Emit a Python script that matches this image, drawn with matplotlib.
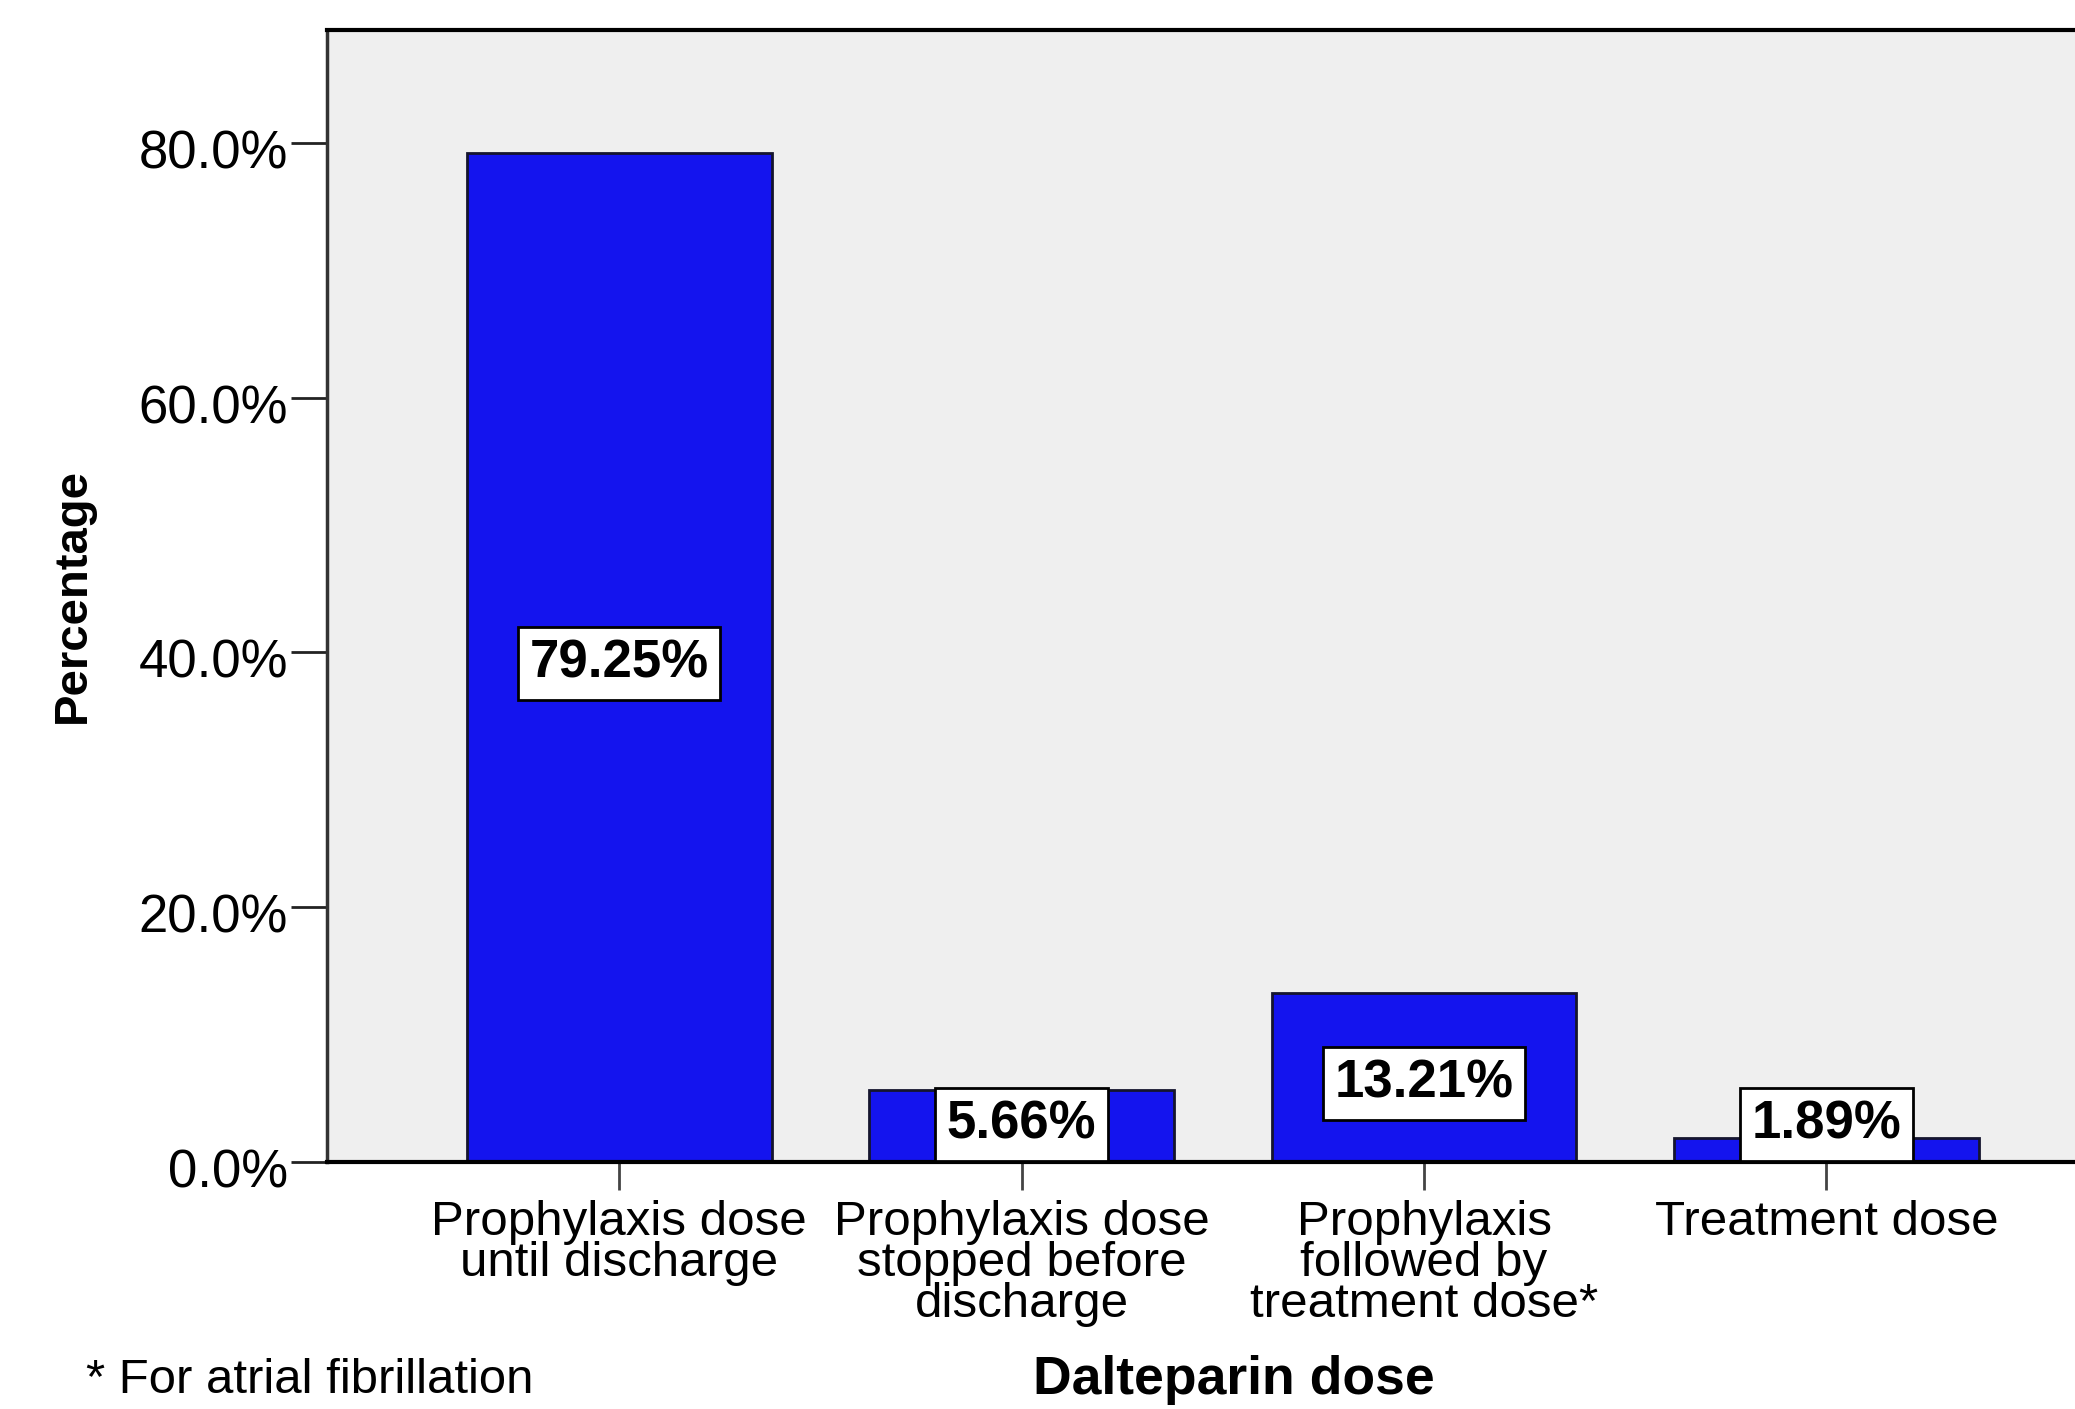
import matplotlib
matplotlib.use('Agg')
import matplotlib.pyplot as plt
from matplotlib.ticker import PercentFormatter
from matplotlib.transforms import ScaledTranslation

# Dalteparin dose groups and their share of patients (%)
categories = [
    'Prophylaxis dose\nuntil discharge',
    'Prophylaxis dose\nstopped before\ndischarge',
    'Prophylaxis\nfollowed by\ntreatment dose*',
    'Treatment dose',
]
percentages = [79.25, 5.66, 13.21, 1.89]
y_ticks = [0, 20, 40, 60, 80]

plt.rcParams['font.family'] = ['Liberation Sans', 'DejaVu Sans']

fig = plt.figure(figsize=(20.75, 14.09), dpi=100)
ax = fig.add_axes([0.1575, 0.1756, 0.8425, 0.8034])
ax.set_facecolor('#efefef')

x = list(range(len(categories)))
ax.bar(x, percentages, width=0.757, color='#1414ee',
       edgecolor='#15152e', linewidth=2, zorder=2)

# value boxes near the middle of each bar (kept clear of the baseline)
for xi, v in zip(x, percentages):
    ax.text(xi, max(v / 2 - 0.5, 2.9), f'{v:.2f}%', ha='center', va='center',
            fontsize=38, fontweight='bold', color='black', zorder=3,
            bbox=dict(boxstyle='square,pad=0.22', facecolor='white',
                      edgecolor='black', linewidth=2))

ax.set_xlim(-0.727, 3.618)
ax.set_ylim(0, 88.94)
ax.set_yticks(y_ticks)
ax.yaxis.set_major_formatter(PercentFormatter(xmax=100, decimals=1))
ax.set_xticks(x)
ax.set_xticklabels(categories, linespacing=0.88)

ax.tick_params(axis='y', length=26, width=2, color='#222222',
               labelsize=38, pad=2)
ax.tick_params(axis='x', length=20, width=2, color='#444444',
               labelsize=35.5, pad=8)

# y tick labels sit a little below their tick marks
shift = ScaledTranslation(0, -0.06, fig.dpi_scale_trans)
for lab in ax.get_yticklabels():
    lab.set_transform(lab.get_transform() + shift)

ax.spines['right'].set_visible(False)
ax.spines['top'].set_linewidth(3)
ax.spines['top'].set_color('black')
ax.spines['bottom'].set_linewidth(3)
ax.spines['bottom'].set_color('black')
ax.spines['left'].set_linewidth(2.5)
ax.spines['left'].set_color('#333333')

ax.set_ylabel('Percentage', fontsize=34, fontweight='bold', va='center')
ax.yaxis.set_label_coords(-0.145, 0.5)

fig.text(0.5944, 0.0205, 'Dalteparin dose', ha='center', va='center',
         fontsize=38.5, fontweight='bold')
fig.text(0.0415, 0.0205, '* For atrial fibrillation', ha='left',
         va='center', fontsize=35.4)

fig.savefig('out.png', dpi=100, facecolor='white')
